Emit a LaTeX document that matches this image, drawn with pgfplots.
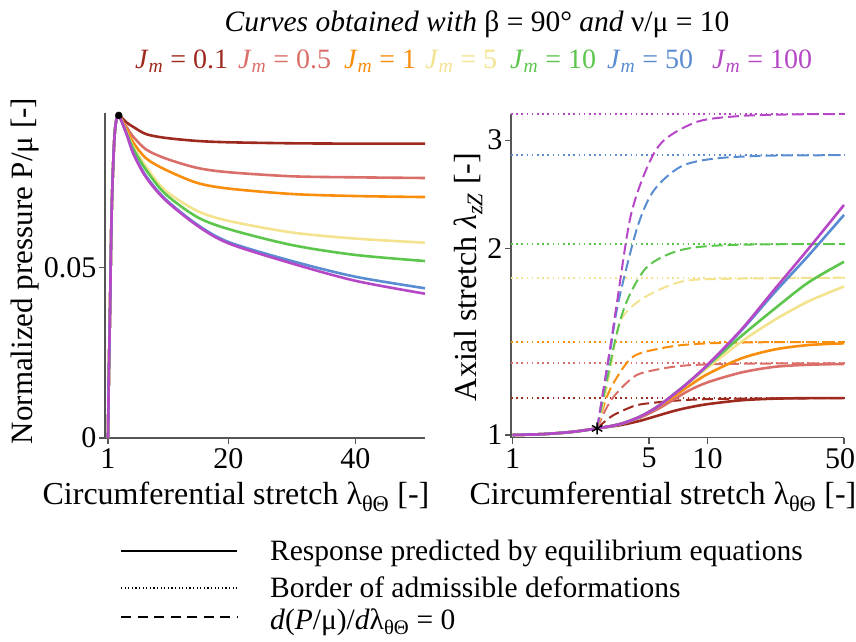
\documentclass[border=0pt]{standalone}
\usepackage{fontspec}
\setmainfont{Liberation Serif}
\usepackage{pgfplots}
\pgfplotsset{compat=1.18}
\definecolor{c1}{HTML}{9E2A1F}
\definecolor{c2}{HTML}{DA6F6A}
\definecolor{c3}{HTML}{F98D0C}
\definecolor{c4}{HTML}{F3E28E}
\definecolor{c5}{HTML}{5CC64C}
\definecolor{c6}{HTML}{5A8CD2}
\definecolor{c7}{HTML}{B647C6}
\definecolor{axgray}{HTML}{555555}
\pgfplotsset{
  mybase/.style={
    scale only axis, axis lines=left,
    axis line style={-, draw=axgray, line width=1.3pt},
    tick align=outside, major tick length=6pt,
    tick style={axgray, line width=1.1pt},
    tick label style={font=\fontsize{30}{32}\selectfont},
    xticklabel style={yshift=-1pt},
    yticklabel style={xshift=1pt},
    scaled ticks=false,
    clip=false,
  },
  sol/.style={line width=2.6pt, smooth, tension=0.5, no markers},
  dsh/.style={line width=2pt, smooth, tension=0.5, no markers, dash pattern=on 11pt off 5pt},
  dtt/.style={line width=2pt, no markers, dash pattern=on 1.6pt off 3.6pt},
}
\begin{document}
\begin{tikzpicture}
\path[use as bounding box] (0pt,0pt) rectangle (856pt,641pt);
% ---------------- left panel ----------------
\begin{axis}[mybase, at={(105pt,203pt)}, anchor=south west, width=320pt, height=325pt,
  xmin=0.53, xmax=51, ymin=0, ymax=0.0955,
  xtick={1,20,40}, xticklabels={\mbox{1},\mbox{20},\mbox{40}},
  ytick={0,0.05}, yticklabels={\mbox{0},\mbox{0.05}}]
\addplot[sol, c1] coordinates {(1,0) (1.15,0.02) (1.32,0.0374) (1.58,0.0665) (1.95,0.086) (2.26,0.0928) (2.7,0.0948) (3.5,0.0935) (4,0.0926) (5,0.0914) (7,0.0893) (10,0.0882) (15,0.0873) (20,0.0869) (30,0.0866) (40,0.0865) (51,0.0865)};
\addplot[sol, c2] coordinates {(1,0) (1.15,0.02) (1.32,0.0374) (1.58,0.0665) (1.95,0.086) (2.26,0.0928) (2.7,0.0948) (3.5,0.0925) (4,0.0912) (5,0.0885) (7,0.0848) (10,0.0822) (15,0.0794) (20,0.0781) (30,0.0769) (40,0.0766) (51,0.0764)};
\addplot[sol, c3] coordinates {(1,0) (1.15,0.02) (1.32,0.0374) (1.58,0.0665) (1.95,0.086) (2.26,0.0928) (2.7,0.0948) (3.5,0.0922) (4,0.0905) (5,0.0868) (7,0.0822) (10,0.0789) (15,0.0750) (20,0.0733) (30,0.0717) (40,0.0711) (51,0.0708)};
\addplot[sol, c4] coordinates {(1,0) (1.15,0.02) (1.32,0.0374) (1.58,0.0665) (1.95,0.086) (2.26,0.0928) (2.7,0.0948) (4,0.0895) (5,0.0855) (7,0.0797) (10,0.0728) (15,0.0668) (20,0.0638) (30,0.0604) (40,0.0586) (51,0.0574)};
\addplot[sol, c5] coordinates {(1,0) (1.15,0.02) (1.32,0.0374) (1.58,0.0665) (1.95,0.086) (2.26,0.0928) (2.7,0.0948) (4,0.0893) (5,0.0850) (7,0.0788) (10,0.0718) (15,0.0650) (20,0.0614) (30,0.0567) (40,0.0538) (51,0.0520)};
\addplot[sol, c6] coordinates {(1,0) (1.15,0.02) (1.32,0.0374) (1.58,0.0665) (1.95,0.086) (2.26,0.0928) (2.7,0.0948) (4,0.0890) (5,0.0838) (7,0.0770) (10,0.0703) (15,0.0628) (20,0.0576) (30,0.0520) (40,0.0474) (51,0.0440)};
\addplot[sol, c7] coordinates {(1,0) (1.15,0.02) (1.32,0.0374) (1.58,0.0665) (1.95,0.086) (2.26,0.0928) (2.7,0.0948) (4,0.0889) (5,0.0835) (7,0.0766) (10,0.0700) (15,0.0625) (20,0.0572) (30,0.0513) (40,0.0462) (51,0.0424)};
\addplot[only marks, mark=*, mark size=3.5pt, black] coordinates {(2.7,0.0948)};
\end{axis}
% ---------------- right panel ----------------
\begin{axis}[mybase, at={(511pt,203.3pt)}, anchor=south west, width=333pt, height=324pt,
  xmode=log, ymode=log, xmin=0.98, xmax=50, ymin=0.99, ymax=3.31,
  xminorticks=false, yminorticks=false,
  xtick={1,5,10,50}, xticklabels={\mbox{1},\mbox{5},\mbox{10},\mbox{\hspace{-8pt}50}},
  ytick={1,2,3}, yticklabels={\mbox{1},\mbox{2},\mbox{3}}]
% borders of admissible deformations
\addplot[dtt, c1] coordinates {(0.98,1.147) (50,1.147)};
\addplot[dtt, c2] coordinates {(0.98,1.306) (50,1.306)};
\addplot[dtt, c3] coordinates {(0.98,1.414) (50,1.414)};
\addplot[dtt, c4] coordinates {(0.98,1.797) (50,1.797)};
\addplot[dtt, c5] coordinates {(0.98,2.037) (50,2.037)};
\addplot[dtt, c6] coordinates {(0.98,2.836) (50,2.836)};
\addplot[dtt, c7] coordinates {(0.98,3.307) (50,3.307)};
% dP/dlambda = 0
\addplot[dsh, c1] coordinates {(2.71,1.025) (3.0,1.055) (3.29,1.077) (3.89,1.104) (4.53,1.121) (6.73,1.136) (10,1.143) (20,1.146) (50,1.147)};
\addplot[dsh, c2] coordinates {(2.71,1.025) (3.0,1.10) (3.29,1.153) (3.89,1.219) (4.53,1.258) (6.73,1.29) (10,1.301) (20,1.305) (50,1.306)};
\addplot[dsh, c3] coordinates {(2.71,1.025) (3.0,1.14) (3.29,1.214) (3.89,1.314) (4.53,1.357) (6.73,1.393) (10,1.407) (20,1.413) (50,1.414)};
\addplot[dsh, c4] coordinates {(2.71,1.025) (3.0,1.17) (3.2,1.30) (3.57,1.53) (4.6,1.66) (7.28,1.77) (13,1.79) (50,1.797)};
\addplot[dsh, c5] coordinates {(2.71,1.025) (3.0,1.20) (3.4,1.45) (3.87,1.653) (4.91,1.873) (7.28,1.992) (13.1,2.03) (50,2.037)};
\addplot[dsh, c6] coordinates {(2.71,1.025) (3.0,1.24) (3.2,1.40) (3.5,1.653) (4.36,2.17) (5.31,2.49) (7.28,2.718) (10.8,2.80) (20,2.83) (50,2.836)};
\addplot[dsh, c7] coordinates {(2.71,1.025) (3.0,1.25) (3.2,1.42) (3.44,1.653) (4.02,2.256) (4.91,2.718) (5.98,3.0) (8.88,3.214) (14.3,3.28) (25,3.30) (50,3.307)};
% equilibrium response
\addplot[sol, c1] coordinates {(1,1) (1.4,1.003) (1.82,1.0086) (2.2,1.015) (2.71,1.025) (3.2,1.032) (3.72,1.040) (4.53,1.055) (5.5,1.074) (6.73,1.094) (8,1.108) (10,1.122) (14.85,1.138) (22,1.145) (32.8,1.147) (50,1.147)};
\addplot[sol, c2] coordinates {(1,1) (1.4,1.003) (1.82,1.0086) (2.2,1.015) (2.71,1.025) (3.2,1.034) (3.72,1.046) (4.53,1.068) (5.5,1.100) (6.73,1.142) (8,1.180) (10,1.217) (14.85,1.262) (22,1.289) (32.8,1.299) (50,1.303)};
\addplot[sol, c3] coordinates {(1,1) (1.4,1.003) (1.82,1.0086) (2.2,1.015) (2.71,1.025) (3.2,1.034) (3.72,1.046) (4.53,1.071) (5.5,1.108) (6.73,1.155) (8,1.200) (10,1.255) (14.85,1.330) (22,1.375) (32.8,1.398) (50,1.407)};
\addplot[sol, c4] coordinates {(1,1) (1.4,1.003) (1.82,1.0086) (2.2,1.015) (2.71,1.025) (3.2,1.034) (3.72,1.046) (4.53,1.072) (5.5,1.110) (6.73,1.165) (8,1.215) (10,1.285) (14.85,1.415) (22,1.535) (32.8,1.645) (50,1.739)};
\addplot[sol, c5] coordinates {(1,1) (1.4,1.003) (1.82,1.0086) (2.2,1.015) (2.71,1.025) (3.2,1.034) (3.72,1.046) (4.53,1.072) (5.5,1.110) (6.73,1.165) (8,1.218) (10,1.295) (14.85,1.445) (22,1.600) (32.8,1.765) (50,1.907)};
\addplot[sol, c6] coordinates {(1,1) (1.4,1.003) (1.82,1.0086) (2.2,1.015) (2.71,1.025) (3.2,1.034) (3.72,1.046) (4.53,1.072) (5.5,1.110) (6.73,1.165) (8,1.218) (10,1.298) (14.85,1.475) (22,1.700) (32.8,1.950) (50,2.270)};
\addplot[sol, c7] coordinates {(1,1) (1.4,1.003) (1.82,1.0086) (2.2,1.015) (2.71,1.025) (3.2,1.034) (3.72,1.046) (4.53,1.072) (5.5,1.110) (6.73,1.165) (8,1.218) (10,1.300) (14.85,1.480) (22,1.720) (32.8,2.000) (50,2.356)};
\addplot[only marks, mark=asterisk, mark size=6pt, black, line width=1.4pt] coordinates {(2.71,1.025)};
\end{axis}
% ---------------- labels ----------------
\node[rotate=90, font=\fontsize{31}{33}\selectfont] at (25pt,370pt) {Normalized pressure P/μ [-]};
\node[rotate=90, font=\fontsize{32}{34}\selectfont] at (468pt,364pt) {Axial stretch \textit{λ}\textsubscript{\textit{zZ}} [-]};
\node[anchor=base, font=\fontsize{32}{34}\selectfont] at (236pt,137pt) {Circumferential stretch λ\textsubscript{θΘ} [-]};
\node[anchor=base, font=\fontsize{32}{34}\selectfont] at (663pt,137pt) {Circumferential stretch λ\textsubscript{θΘ} [-]};
% title
\node[anchor=base, font=\fontsize{29.5}{31}\selectfont] at (477pt,609pt) {\textit{Curves obtained with} β = 90° \textit{and} ν/μ = 10};
% colour legend
\begin{scope}[every node/.style={anchor=base west, font=\fontsize{28}{30}\selectfont, inner sep=0pt}]
\node[text=c1] at (135pt,572pt) {\textit{J}\textsubscript{\textit{m}} = 0.1};
\node[text=c2] at (238pt,572pt) {\textit{J}\textsubscript{\textit{m}} = 0.5};
\node[text=c3] at (344pt,572pt) {\textit{J}\textsubscript{\textit{m}} = 1};
\node[text=c4] at (425pt,572pt) {\textit{J}\textsubscript{\textit{m}} = 5};
\node[text=c5] at (510pt,572pt) {\textit{J}\textsubscript{\textit{m}} = 10};
\node[text=c6] at (607pt,572pt) {\textit{J}\textsubscript{\textit{m}} = 50};
\node[text=c7] at (712pt,572pt) {\textit{J}\textsubscript{\textit{m}} = 100};
\end{scope}
% line style legend
\draw[line width=1.2pt] (121pt,90pt) -- (237pt,90pt);
\draw[line width=1.6pt, dash pattern=on 1.2pt off 2.4pt] (121pt,53pt) -- (237pt,53pt);
\draw[line width=1.2pt, dash pattern=on 10pt off 6.5pt] (121pt,24pt) -- (237pt,24pt);
\begin{scope}[every node/.style={anchor=base west, font=\fontsize{29.5}{31}\selectfont, inner sep=0pt}]
\node at (270pt,81pt) {Response predicted by equilibrium equations};
\node at (270pt,44pt) {Border of admissible deformations};
\node at (270pt,12pt) {\textit{d}(\textit{P}/μ)/\textit{d}λ\textsubscript{θΘ} = 0};
\end{scope}
\end{tikzpicture}
\end{document}
